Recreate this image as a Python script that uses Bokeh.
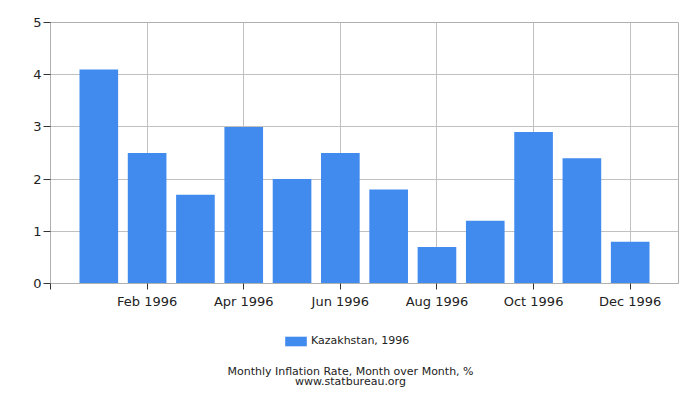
from bokeh.plotting import figure
from bokeh.models import Range1d, FixedTicker, Legend, LegendItem, Label, ColumnDataSource
from bokeh.layouts import column
from bokeh.embed import file_html
from bokeh.resources import INLINE

month_index = list(range(1, 13))
values = [4.1, 2.5, 1.7, 3.0, 2.0, 2.5, 1.8, 0.7, 1.2, 2.9, 2.4, 0.8]
tick_positions = [0, 2, 4, 6, 8, 10, 12]
tick_labels = ["", "Feb 1996", "Apr 1996", "Jun 1996", "Aug 1996", "Oct 1996", "Dec 1996"]
y_ticks = [0, 1, 2, 3, 4, 5]
series_name = "Kazakhstan, 1996"
title_lines = ["Monthly Inflation Rate, Month over Month, %", "www.statbureau.org"]

FONT = "DejaVu Sans"
BAR = "#418BEF"
GRID = "#c0c0c0"
TXT = "#222222"

src = ColumnDataSource(dict(x=month_index, top=values))

p = figure(width=700, height=320, x_range=Range1d(0, 13), y_range=Range1d(0, 5),
           output_backend="svg", toolbar_location=None,
           min_border_left=50, min_border_right=22, min_border_top=22, min_border_bottom=37)
p.background_fill_color = "white"
p.border_fill_color = "white"
p.outline_line_color = "#b0b0b0"

r = p.vbar(x="x", top="top", width=0.8, bottom=0, source=src, fill_color=BAR, line_color=None)

xa = p.xaxis[0]
xa.ticker = FixedTicker(ticks=tick_positions)
xa.major_label_overrides = {t: l for t, l in zip(tick_positions, tick_labels)}
xa.minor_tick_line_color = None
xa.axis_line_color = "#b0b0b0"
xa.major_tick_line_color = "#333333"
xa.major_tick_out = 6
xa.major_tick_in = 0
xa.major_label_text_font = FONT
xa.major_label_text_font_size = "13px"
xa.major_label_text_color = TXT
xa.major_label_standoff = 4

ya = p.yaxis[0]
ya.ticker = FixedTicker(ticks=y_ticks)
ya.minor_tick_line_color = None
ya.axis_line_color = "#b0b0b0"
ya.major_tick_line_color = "#333333"
ya.major_tick_out = 7
ya.major_tick_in = 0
ya.major_label_text_font = FONT
ya.major_label_text_font_size = "13px"
ya.major_label_text_color = TXT
ya.major_label_standoff = 2

p.xgrid.grid_line_color = GRID
p.ygrid.grid_line_color = GRID

# lower strip: legend and caption (its frame is aligned with the chart's frame: x 50..678)
p2 = figure(width=700, height=80, x_range=Range1d(50, 678), y_range=Range1d(0, 80),
            output_backend="svg", toolbar_location=None,
            x_axis_type=None, y_axis_type=None, min_border=0)
p2.grid.visible = False
p2.outline_line_color = None
p2.background_fill_color = "white"
p2.border_fill_color = "white"

proxy = p2.vbar(x="x", top="top", width=0.8, bottom=0, source=src,
                fill_color=BAR, line_color=None, visible=False)
legend = Legend(items=[LegendItem(label=series_name, renderers=[proxy])],
                orientation="horizontal", location=(232, 53),
                glyph_width=27, glyph_height=12, label_height=12, label_standoff=2,
                label_text_font=FONT, label_text_font_size="11px", label_text_color=TXT,
                label_text_baseline="middle", inactive_fill_alpha=0,
                border_line_color=None, background_fill_alpha=0, margin=0, padding=0)
p2.add_layout(legend)

for i, line in enumerate(title_lines):
    lab = Label(x=350, y=29.5 - 10 * i, text=line,
                text_align="center", text_baseline="middle", text_font=FONT,
                text_font_size="11px", text_color=TXT)
    p2.add_layout(lab)

open("out.html", "w").write(file_html(column(p, p2), INLINE))
